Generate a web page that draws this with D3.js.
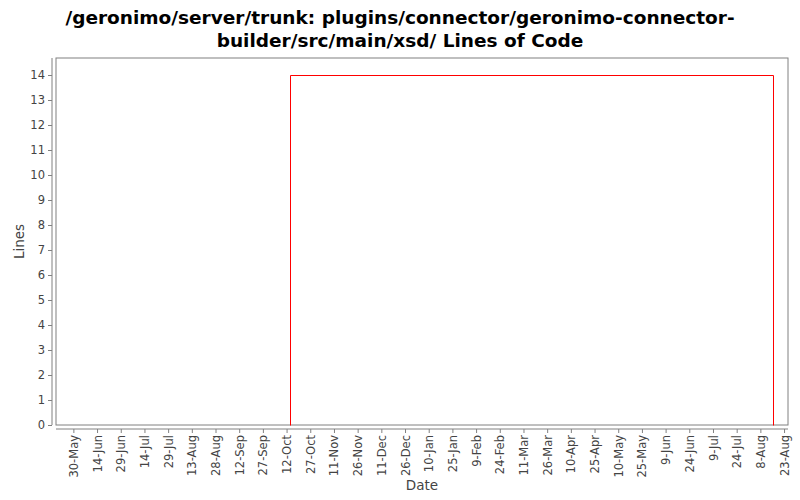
<!DOCTYPE html>
<html><head><meta charset="utf-8">
<script src="https://cdn.jsdelivr.net/npm/d3@7"></script>
<style>body{margin:0;background:#fff}svg{display:block}</style>
</head><body>
<svg id="c" width="800" height="500"></svg>
<script>
const titleLines = ["/geronimo/server/trunk: plugins/connector/geronimo-connector-", "builder/src/main/xsd/ Lines of Code"];
const dates = ["2006-10-14", "2006-10-14", "2007-08-16", "2007-08-16"];
const values = [0, 14, 14, 0];
const tickDates = ["2006-05-30","2006-06-14","2006-06-29","2006-07-14","2006-07-29","2006-08-13","2006-08-28","2006-09-12","2006-09-27","2006-10-12","2006-10-27","2006-11-11","2006-11-26","2006-12-11","2006-12-26","2007-01-10","2007-01-25","2007-02-09","2007-02-24","2007-03-11","2007-03-26","2007-04-10","2007-04-25","2007-05-10","2007-05-25","2007-06-09","2007-06-24","2007-07-09","2007-07-24","2007-08-08","2007-08-23"];
const yTicks = [0,1,2,3,4,5,6,7,8,9,10,11,12,13,14];

const parse = d3.utcParse("%Y-%m-%d");
const fmt = d3.utcFormat("%-d-%b");
const svg = d3.select("#c");
const L = 56, R = 788, T = 58, B = 425;

const x = d3.scaleUtc().domain([parse("2006-05-19"), new Date(Date.UTC(2006,7+12,25,12))]).range([L, R]);
const y = d3.scaleLinear().domain([0, 14.68]).range([B, T]);

svg.append("text").attr("x", 400).attr("font-family", "DejaVu Sans, sans-serif")
  .attr("font-weight", "bold").attr("font-size", 18.5).attr("text-anchor", "middle").attr("fill", "#000")
  .attr("textLength", null)
  .selectAll("tspan").data(titleLines).join("tspan")
  .attr("x", 400).attr("y", (d, i) => 24 + i * 23).text(d => d);

svg.append("rect").attr("x", L).attr("y", T).attr("width", R - L).attr("height", B - T)
  .attr("fill", "#fff").attr("stroke", "#808080").attr("stroke-width", 1);

const yAxis = svg.append("g").attr("transform", `translate(${L - 4},0)`)
  .call(d3.axisLeft(y).tickValues(yTicks).tickSize(4).tickPadding(3).tickFormat(d3.format("d")));
yAxis.select(".domain").attr("stroke", "#808080").attr("d", `M0,${T}V${B}`);
yAxis.selectAll(".tick line").attr("stroke", "#808080");
yAxis.selectAll("text").attr("font-family", "DejaVu Sans, sans-serif").attr("font-size", 11.5).attr("fill", "#444");

const xAxis = svg.append("g").attr("transform", `translate(0,${B + 4})`)
  .call(d3.axisBottom(x).tickValues(tickDates.map(parse)).tickSize(4).tickFormat(fmt));
xAxis.select(".domain").attr("stroke", "#808080").attr("d", `M${L},0H${R}`);
xAxis.selectAll(".tick line").attr("stroke", "#808080");
xAxis.selectAll("text").attr("font-family", "DejaVu Sans, sans-serif").attr("font-size", 11.5).attr("fill", "#444")
  .attr("text-anchor", "end").attr("transform", "rotate(-90)").attr("x", -6).attr("y", 0).attr("dy", "0.35em");

svg.append("text").attr("transform", `translate(24,${(T + B) / 2}) rotate(-90)`).attr("text-anchor", "middle")
  .attr("font-family", "DejaVu Sans, sans-serif").attr("font-size", 13.5).attr("fill", "#444").text("Lines");
svg.append("text").attr("x", (L + R) / 2).attr("y", 490).attr("text-anchor", "middle")
  .attr("font-family", "DejaVu Sans, sans-serif").attr("font-size", 13.5).attr("fill", "#444").text("Date");

const pts = dates.map((d, i) => [parse(d), values[i]]);
svg.append("path").datum(pts).attr("fill", "none").attr("stroke", "#ff0000").attr("stroke-width", 1)
  .attr("d", d3.line().x(d => Math.round(x(d[0])) + 0.5).y(d => Math.round(y(d[1])) + 0.5));
</script>
</body></html>
